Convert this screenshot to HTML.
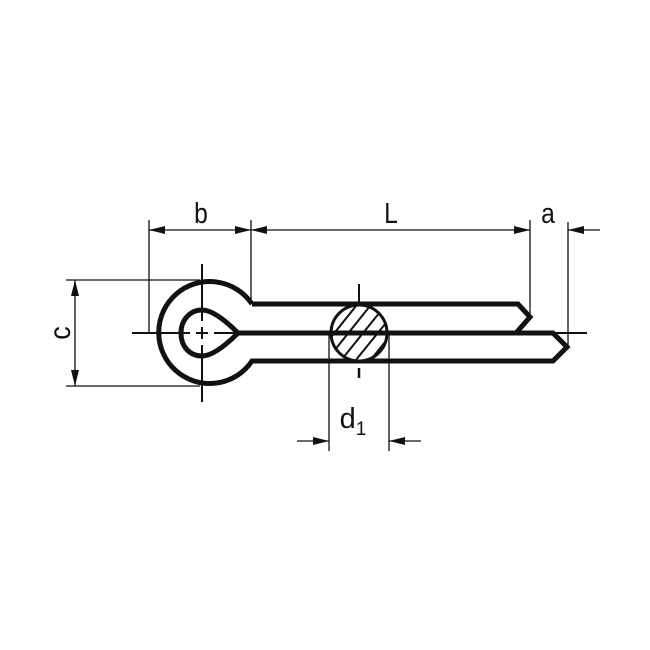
<!DOCTYPE html>
<html><head><style>html,body{margin:0;padding:0;background:#fff}svg{display:block}</style></head>
<body>
<svg width="650" height="650" viewBox="0 0 650 650" xmlns="http://www.w3.org/2000/svg">
<defs>
<marker id="ar" viewBox="0 0 16 8" refX="16" refY="4" markerWidth="16" markerHeight="8" markerUnits="userSpaceOnUse" orient="auto"><path d="M0,0 L16,4 L0,8 Z" fill="#111"/></marker>
<clipPath id="cc"><circle cx="359" cy="333" r="28"/></clipPath>
</defs>
<g stroke="#111" stroke-width="1.3" fill="none">
<line x1="149" y1="220" x2="149" y2="333"/>
<line x1="251" y1="220" x2="251" y2="304"/>
<line x1="530" y1="220" x2="530" y2="318"/>
<line x1="568" y1="222" x2="568" y2="348"/>
<line x1="66" y1="280" x2="200" y2="280"/>
<line x1="66" y1="386" x2="200" y2="386"/>
<line x1="329" y1="333" x2="329" y2="451"/>
<line x1="389" y1="333" x2="389" y2="451"/>
<line x1="165" y1="230" x2="149" y2="230" marker-end="url(#ar)"/>
<line x1="165" y1="230" x2="251" y2="230" marker-end="url(#ar)"/>
<line x1="270" y1="230" x2="251" y2="230" marker-end="url(#ar)"/>
<line x1="270" y1="230" x2="530" y2="230" marker-end="url(#ar)"/>
<line x1="600" y1="230" x2="568" y2="230" marker-end="url(#ar)"/>
<line x1="75" y1="300" x2="75" y2="280" marker-end="url(#ar)"/>
<line x1="75" y1="300" x2="75" y2="386" marker-end="url(#ar)"/>
<line x1="297" y1="441" x2="329" y2="441" marker-end="url(#ar)"/>
<line x1="421" y1="441" x2="389" y2="441" marker-end="url(#ar)"/>
<line x1="132" y1="333" x2="587" y2="333" stroke-width="2"/>
<line x1="202" y1="264" x2="202" y2="402" stroke-width="2"/>
<line x1="359" y1="284" x2="359" y2="310" stroke-width="2"/>
<line x1="359" y1="368" x2="359" y2="378" stroke-width="2.5"/>
</g>
<g stroke="#111" stroke-width="5" fill="none" stroke-linejoin="miter">
<path d="M252,304 L518,304 L530,317 L516,333 L553,333 L567,347 L553,361 L252,361 A51,51 0 1 1 252,304"/>
<path d="M238,333 C225,320 212,310 202,310 C190,310 181,320 181,333 C181,347 190,356 202,356 C212,356 225,346 238,333 Z"/>
<line x1="238" y1="333" x2="518" y2="333"/>
</g>
<!-- dashed centre inside teardrop -->
<g stroke="#fff" stroke-width="3">
<line x1="190" y1="333" x2="196" y2="333"/><line x1="208" y1="333" x2="214" y2="333"/>
<line x1="202" y1="321" x2="202" y2="327"/><line x1="202" y1="339" x2="202" y2="345"/>
</g>
<circle cx="359" cy="333" r="28" fill="#fff" stroke="#111" stroke-width="3"/>
<g clip-path="url(#cc)" stroke="#111" stroke-width="2">
<line x1="310" y1="346" x2="350" y2="296"/><line x1="316" y1="356" x2="360" y2="301"/>
<line x1="322" y1="366" x2="370" y2="306"/><line x1="330" y1="374" x2="380" y2="312"/>
<line x1="338" y1="382" x2="390" y2="318"/><line x1="348" y1="388" x2="398" y2="326"/>
<line x1="358" y1="392" x2="404" y2="336"/><line x1="368" y1="396" x2="410" y2="346"/>
</g>
<line x1="331" y1="333" x2="387" y2="333" stroke="#111" stroke-width="5"/>
<g font-family="Liberation Sans, sans-serif" fill="#111" font-size="29" text-anchor="middle">
<text x="201" y="223" transform="translate(201 0) scale(0.85 1) translate(-201 0)">b</text>
<text x="391" y="223" transform="translate(391 0) scale(0.85 1) translate(-391 0)">L</text>
<text x="548" y="223" transform="translate(548 0) scale(0.85 1) translate(-548 0)">a</text>
<text x="333" y="70" transform="rotate(-90 333 70) translate(-333 0) translate(333 333) rotate(90) translate(-333 -333)" font-size="0">c</text>
<text x="0" y="0" transform="translate(70 333) rotate(-90) scale(0.9 1)" font-size="30">c</text>
<text x="353" y="428">d<tspan font-size="19" dy="7">1</tspan></text>
</g>
</svg>
</body></html>
